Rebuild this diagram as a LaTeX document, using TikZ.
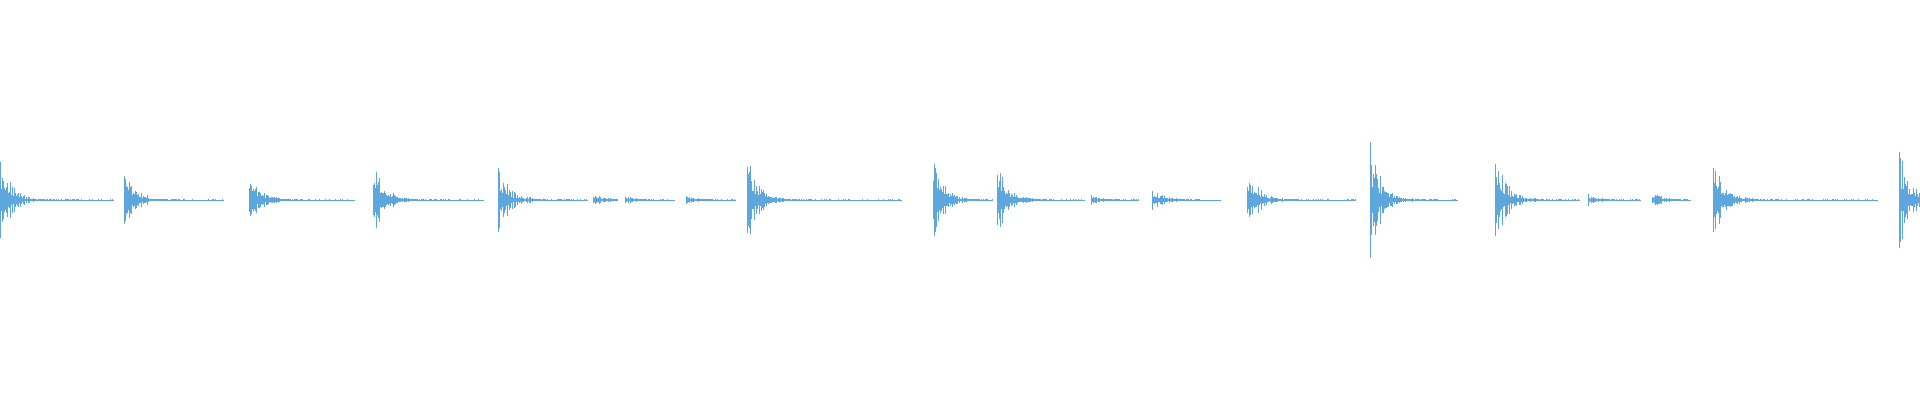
\documentclass[tikz,border=0pt]{standalone}
\definecolor{wave}{RGB}{93,166,222}
\begin{document}
\begin{tikzpicture}[x=1pt,y=1pt]
    \useasboundingbox (0,0) rectangle (1920,400);
    \pgfmathsetseed{7}
    % one burst per hit: onset / peak amplitude / tail length
    \foreach \x/\a/\len in {0/46/114, 124/37/100, 249/33/106, 373/39/110,
            498/38/90, 593/6/25, 625/5/50, 686/5/50, 747/45/155,
            933/43/60, 997/39/87, 1091/6/48, 1152/13/68, 1247/37/109,
            1370/59/87, 1495/51/85, 1588/6/52, 1652/9/38, 1713/45/164,
            1899/51/21}{
        \foreach \i in {0,0.7,...,\len}{
            \pgfmathsetmacro\h{max(0.4,\a*exp(-\i/11)*(0.25+0.75*rnd^2)+0.6*rnd)}
            \draw[color=wave, line width=0.45pt] (\x+\i,200-\h) -- (\x+\i,200+\h);
        }
    }
\end{tikzpicture}
\end{document}
